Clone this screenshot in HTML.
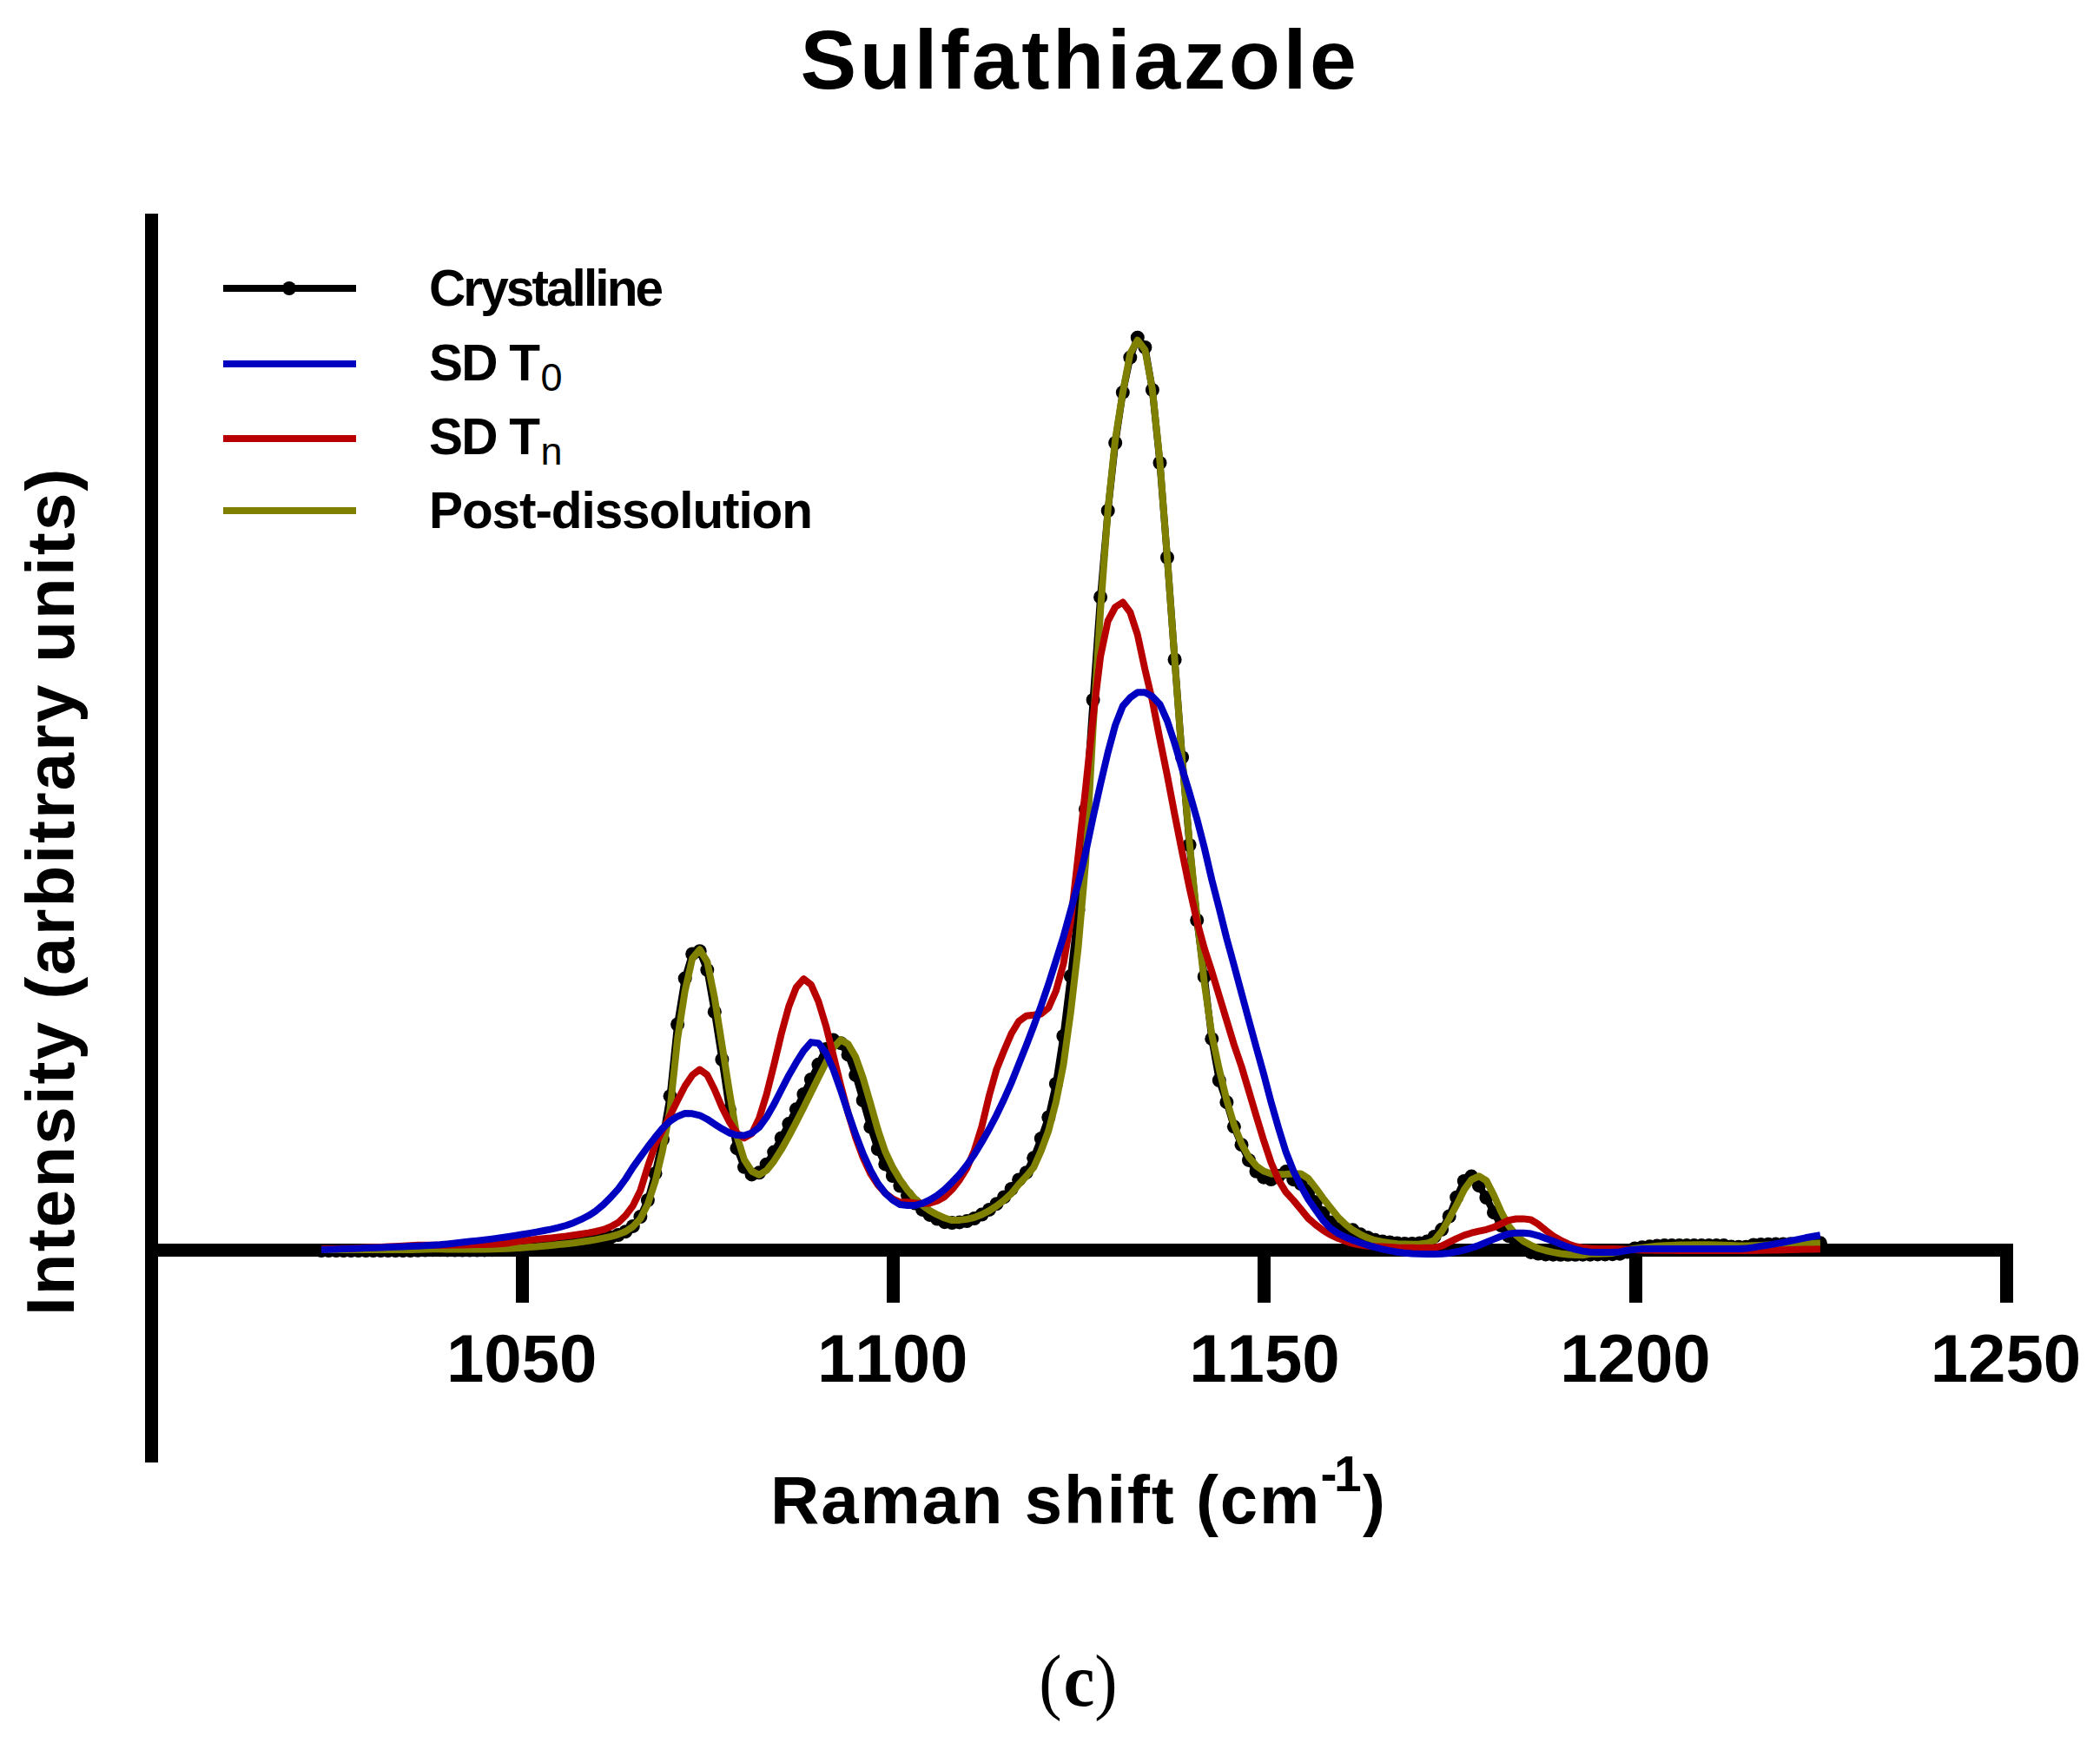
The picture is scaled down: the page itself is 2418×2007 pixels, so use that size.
<!DOCTYPE html>
<html lang="en">
<head>
<meta charset="utf-8">
<title>Sulfathiazole Raman</title>
<style>
html,body{margin:0;padding:0;background:#fff;}
body{width:2418px;height:2007px;overflow:hidden;}
svg{display:block;}
text{font-family:'Liberation Sans', Arial, Helvetica, sans-serif;font-weight:bold;fill:#000;}
.serif{font-family:'Liberation Serif', 'Times New Roman', serif;font-weight:normal;}
.serifb{font-family:'Liberation Serif', 'Times New Roman', serif;font-weight:bold;}
.ln{fill:none;stroke-width:8;stroke-linejoin:round;stroke-linecap:butt;}
</style>
</head>
<body>
<svg width="2418" height="2007" viewBox="0 0 2418 2007">
<rect width="2418" height="2007" fill="#fff"/>
<!-- title -->
<text id="title" x="921.5" y="102" font-size="97" textLength="640.5" lengthAdjust="spacing">Sulfathiazole</text>
<!-- axes -->
<g fill="#000" shape-rendering="crispEdges">
<rect x="167" y="246" width="15" height="1438"/>
<rect x="167" y="1432" width="2151" height="15"/>
<rect x="594" y="1440" width="15" height="60"/>
<rect x="1021" y="1440" width="15" height="60"/>
<rect x="1448" y="1440" width="15" height="60"/>
<rect x="1876" y="1440" width="15" height="60"/>
<rect x="2303" y="1440" width="15" height="60"/>
</g>
<!-- tick labels -->
<g font-size="78" text-anchor="middle" style="font-kerning:none">
<text id="t1" x="600.7" y="1590.5">1050</text>
<text id="t2" x="1027.7" y="1590.5">1100</text>
<text id="t3" x="1455.9" y="1590.5">1150</text>
<text id="t4" x="1882.9" y="1590.5">1200</text>
<text id="t5" x="2309.5" y="1590.5">1250</text>
</g>
<!-- axis titles -->
<text id="xl1" x="887" y="1753.5" font-size="78" textLength="632.4" lengthAdjust="spacing">Raman shift (cm</text>
<text id="xl2" y="1717" font-size="57"><tspan x="1520.5">-</tspan><tspan x="1536">1</tspan></text>
<text id="xl3" x="1569" y="1753.5" font-size="78">)</text>
<text id="yl" transform="translate(85,1515) rotate(-90)" font-size="78" textLength="975.5" lengthAdjust="spacing">Intensity (arbitrary units)</text>
<!-- legend -->
<g class="ln">
<line x1="257" y1="332" x2="410" y2="332" stroke="#000"/>
<line x1="257" y1="419" x2="410" y2="419" stroke="#0000c0"/>
<line x1="257" y1="505" x2="410" y2="505" stroke="#b80000"/>
<line x1="257" y1="588" x2="410" y2="588" stroke="#808000"/>
</g>
<circle cx="333" cy="332" r="8"/>
<g font-size="58.5">
<text id="l1" x="494" y="352" textLength="270" lengthAdjust="spacing">Crystalline</text>
<text id="l2" x="494" y="437.5" textLength="128" lengthAdjust="spacing">SD T</text>
<text id="l2s" x="622.5" y="449.5" font-size="45" style="font-weight:normal">0</text>
<text id="l3" x="494" y="522.5" textLength="128" lengthAdjust="spacing">SD T</text>
<text id="l3s" x="622.5" y="534.5" font-size="45" style="font-weight:normal">n</text>
<text id="l4" x="494" y="608" textLength="442" lengthAdjust="spacing">Post-dissolution</text>
</g>
<!-- data -->
<polyline class="ln" stroke="#000" points="370.0,1440.0 378.5,1440.0 387.1,1440.0 395.6,1440.0 404.2,1440.0 412.7,1440.0 421.3,1440.0 429.8,1440.0 438.4,1440.0 446.9,1440.0 455.4,1440.0 464.0,1440.0 472.5,1440.0 481.1,1439.8 489.6,1439.5 498.2,1439.3 506.7,1439.3 515.2,1439.4 523.8,1439.5 532.3,1439.5 540.9,1439.5 549.4,1439.5 558.0,1439.4 566.5,1439.3 575.1,1439.1 583.6,1438.8 592.1,1438.3 600.7,1437.7 609.2,1437.1 617.8,1436.5 626.3,1435.7 634.9,1434.9 643.4,1434.1 652.0,1433.2 660.5,1432.2 669.0,1431.0 677.6,1429.8 686.1,1428.4 694.7,1426.7 703.2,1424.7 711.8,1422.0 720.3,1418.2 728.8,1411.9 737.4,1401.0 745.9,1382.0 754.5,1351.2 763.0,1312.0 771.6,1262.2 780.1,1179.5 788.7,1126.6 797.2,1098.4 805.7,1095.2 814.3,1116.8 822.8,1165.2 831.4,1220.0 839.9,1277.5 848.5,1322.2 857.0,1343.8 865.6,1352.4 874.1,1350.3 882.6,1340.7 891.2,1326.6 899.7,1310.4 908.3,1294.1 916.8,1277.3 925.4,1260.0 933.9,1242.9 942.4,1225.8 951.0,1208.0 959.5,1197.6 968.1,1201.2 976.6,1214.4 985.2,1237.8 993.7,1267.0 1002.3,1297.5 1010.8,1323.0 1019.3,1340.4 1027.9,1354.0 1036.4,1365.6 1045.0,1376.3 1053.5,1385.6 1062.1,1392.9 1070.6,1398.9 1079.2,1403.6 1087.7,1407.2 1096.2,1408.1 1104.8,1407.4 1113.3,1406.1 1121.9,1403.0 1130.4,1398.6 1139.0,1392.9 1147.5,1386.2 1156.0,1378.4 1164.6,1369.0 1173.1,1358.4 1181.7,1350.2 1190.2,1333.3 1198.8,1310.9 1207.3,1286.5 1215.9,1248.0 1224.4,1193.0 1232.9,1124.0 1241.5,1048.0 1250.0,932.0 1258.6,806.0 1267.1,687.5 1275.7,588.0 1284.2,510.0 1292.8,451.8 1301.3,411.6 1309.8,388.7 1318.4,400.0 1326.9,449.0 1335.5,533.0 1344.0,642.0 1352.6,759.5 1361.1,872.0 1369.6,973.0 1378.2,1059.5 1386.7,1124.5 1395.3,1196.2 1403.8,1244.0 1412.4,1269.1 1420.9,1297.3 1429.5,1318.2 1438.0,1335.9 1446.5,1348.8 1455.1,1355.7 1463.6,1358.0 1472.2,1354.0 1480.7,1349.1 1489.3,1358.2 1497.8,1363.1 1506.4,1371.5 1514.9,1384.2 1523.4,1397.0 1532.0,1407.5 1540.5,1415.3 1549.1,1420.0 1557.6,1416.3 1566.2,1421.2 1574.7,1425.0 1583.2,1427.8 1591.8,1429.4 1600.3,1430.5 1608.9,1431.5 1617.4,1431.9 1626.0,1431.9 1634.5,1431.5 1643.1,1429.6 1651.6,1423.9 1660.1,1415.8 1668.7,1400.5 1677.2,1378.7 1685.8,1359.9 1694.3,1354.6 1702.9,1365.2 1711.4,1379.0 1720.0,1396.2 1728.5,1411.0 1737.0,1423.2 1745.6,1432.9 1754.1,1438.7 1762.7,1441.9 1771.2,1443.6 1779.8,1444.4 1788.3,1444.7 1796.8,1444.8 1805.4,1444.8 1813.9,1444.8 1822.5,1444.7 1831.0,1444.7 1839.6,1444.4 1848.1,1444.4 1856.7,1444.2 1865.2,1443.7 1873.7,1441.5 1882.3,1437.4 1890.8,1436.2 1899.4,1435.3 1907.9,1434.4 1916.5,1434.1 1925.0,1434.1 1933.6,1434.1 1942.1,1434.1 1950.6,1434.1 1959.2,1434.1 1967.7,1434.1 1976.3,1434.1 1984.8,1434.1 1993.4,1435.6 2001.9,1435.7 2010.4,1435.7 2019.0,1433.4 2027.5,1433.0 2036.1,1432.8 2044.6,1432.6 2053.2,1432.5 2061.7,1432.3 2070.3,1432.2 2078.8,1432.1 2087.3,1431.9 2095.9,1431.3"/>
<g fill="#000"><circle cx="370.0" cy="1440.0" r="8"/><circle cx="378.5" cy="1440.0" r="8"/><circle cx="387.1" cy="1440.0" r="8"/><circle cx="395.6" cy="1440.0" r="8"/><circle cx="404.2" cy="1440.0" r="8"/><circle cx="412.7" cy="1440.0" r="8"/><circle cx="421.3" cy="1440.0" r="8"/><circle cx="429.8" cy="1440.0" r="8"/><circle cx="438.4" cy="1440.0" r="8"/><circle cx="446.9" cy="1440.0" r="8"/><circle cx="455.4" cy="1440.0" r="8"/><circle cx="464.0" cy="1440.0" r="8"/><circle cx="472.5" cy="1440.0" r="8"/><circle cx="481.1" cy="1439.8" r="8"/><circle cx="489.6" cy="1439.5" r="8"/><circle cx="498.2" cy="1439.3" r="8"/><circle cx="506.7" cy="1439.3" r="8"/><circle cx="515.2" cy="1439.4" r="8"/><circle cx="523.8" cy="1439.5" r="8"/><circle cx="532.3" cy="1439.5" r="8"/><circle cx="540.9" cy="1439.5" r="8"/><circle cx="549.4" cy="1439.5" r="8"/><circle cx="558.0" cy="1439.4" r="8"/><circle cx="566.5" cy="1439.3" r="8"/><circle cx="575.1" cy="1439.1" r="8"/><circle cx="583.6" cy="1438.8" r="8"/><circle cx="592.1" cy="1438.3" r="8"/><circle cx="600.7" cy="1437.7" r="8"/><circle cx="609.2" cy="1437.1" r="8"/><circle cx="617.8" cy="1436.5" r="8"/><circle cx="626.3" cy="1435.7" r="8"/><circle cx="634.9" cy="1434.9" r="8"/><circle cx="643.4" cy="1434.1" r="8"/><circle cx="652.0" cy="1433.2" r="8"/><circle cx="660.5" cy="1432.2" r="8"/><circle cx="669.0" cy="1431.0" r="8"/><circle cx="677.6" cy="1429.8" r="8"/><circle cx="686.1" cy="1428.4" r="8"/><circle cx="694.7" cy="1426.7" r="8"/><circle cx="703.2" cy="1424.7" r="8"/><circle cx="711.8" cy="1422.0" r="8"/><circle cx="720.3" cy="1418.2" r="8"/><circle cx="728.8" cy="1411.9" r="8"/><circle cx="737.4" cy="1401.0" r="8"/><circle cx="745.9" cy="1382.0" r="8"/><circle cx="754.5" cy="1351.2" r="8"/><circle cx="763.0" cy="1312.0" r="8"/><circle cx="771.6" cy="1262.2" r="8"/><circle cx="780.1" cy="1179.5" r="8"/><circle cx="788.7" cy="1126.6" r="8"/><circle cx="797.2" cy="1098.4" r="8"/><circle cx="805.7" cy="1095.2" r="8"/><circle cx="814.3" cy="1116.8" r="8"/><circle cx="822.8" cy="1165.2" r="8"/><circle cx="831.4" cy="1220.0" r="8"/><circle cx="839.9" cy="1277.5" r="8"/><circle cx="848.5" cy="1322.2" r="8"/><circle cx="857.0" cy="1343.8" r="8"/><circle cx="865.6" cy="1352.4" r="8"/><circle cx="874.1" cy="1350.3" r="8"/><circle cx="882.6" cy="1340.7" r="8"/><circle cx="891.2" cy="1326.6" r="8"/><circle cx="899.7" cy="1310.4" r="8"/><circle cx="908.3" cy="1294.1" r="8"/><circle cx="916.8" cy="1277.3" r="8"/><circle cx="925.4" cy="1260.0" r="8"/><circle cx="933.9" cy="1242.9" r="8"/><circle cx="942.4" cy="1225.8" r="8"/><circle cx="951.0" cy="1208.0" r="8"/><circle cx="959.5" cy="1197.6" r="8"/><circle cx="968.1" cy="1201.2" r="8"/><circle cx="976.6" cy="1214.4" r="8"/><circle cx="985.2" cy="1237.8" r="8"/><circle cx="993.7" cy="1267.0" r="8"/><circle cx="1002.3" cy="1297.5" r="8"/><circle cx="1010.8" cy="1323.0" r="8"/><circle cx="1019.3" cy="1340.4" r="8"/><circle cx="1027.9" cy="1354.0" r="8"/><circle cx="1036.4" cy="1365.6" r="8"/><circle cx="1045.0" cy="1376.3" r="8"/><circle cx="1053.5" cy="1385.6" r="8"/><circle cx="1062.1" cy="1392.9" r="8"/><circle cx="1070.6" cy="1398.9" r="8"/><circle cx="1079.2" cy="1403.6" r="8"/><circle cx="1087.7" cy="1407.2" r="8"/><circle cx="1096.2" cy="1408.1" r="8"/><circle cx="1104.8" cy="1407.4" r="8"/><circle cx="1113.3" cy="1406.1" r="8"/><circle cx="1121.9" cy="1403.0" r="8"/><circle cx="1130.4" cy="1398.6" r="8"/><circle cx="1139.0" cy="1392.9" r="8"/><circle cx="1147.5" cy="1386.2" r="8"/><circle cx="1156.0" cy="1378.4" r="8"/><circle cx="1164.6" cy="1369.0" r="8"/><circle cx="1173.1" cy="1358.4" r="8"/><circle cx="1181.7" cy="1350.2" r="8"/><circle cx="1190.2" cy="1333.3" r="8"/><circle cx="1198.8" cy="1310.9" r="8"/><circle cx="1207.3" cy="1286.5" r="8"/><circle cx="1215.9" cy="1248.0" r="8"/><circle cx="1224.4" cy="1193.0" r="8"/><circle cx="1232.9" cy="1124.0" r="8"/><circle cx="1241.5" cy="1048.0" r="8"/><circle cx="1250.0" cy="932.0" r="8"/><circle cx="1258.6" cy="806.0" r="8"/><circle cx="1267.1" cy="687.5" r="8"/><circle cx="1275.7" cy="588.0" r="8"/><circle cx="1284.2" cy="510.0" r="8"/><circle cx="1292.8" cy="451.8" r="8"/><circle cx="1301.3" cy="411.6" r="8"/><circle cx="1309.8" cy="388.7" r="8"/><circle cx="1318.4" cy="400.0" r="8"/><circle cx="1326.9" cy="449.0" r="8"/><circle cx="1335.5" cy="533.0" r="8"/><circle cx="1344.0" cy="642.0" r="8"/><circle cx="1352.6" cy="759.5" r="8"/><circle cx="1361.1" cy="872.0" r="8"/><circle cx="1369.6" cy="973.0" r="8"/><circle cx="1378.2" cy="1059.5" r="8"/><circle cx="1386.7" cy="1124.5" r="8"/><circle cx="1395.3" cy="1196.2" r="8"/><circle cx="1403.8" cy="1244.0" r="8"/><circle cx="1412.4" cy="1269.1" r="8"/><circle cx="1420.9" cy="1297.3" r="8"/><circle cx="1429.5" cy="1318.2" r="8"/><circle cx="1438.0" cy="1335.9" r="8"/><circle cx="1446.5" cy="1348.8" r="8"/><circle cx="1455.1" cy="1355.7" r="8"/><circle cx="1463.6" cy="1358.0" r="8"/><circle cx="1472.2" cy="1354.0" r="8"/><circle cx="1480.7" cy="1349.1" r="8"/><circle cx="1489.3" cy="1358.2" r="8"/><circle cx="1497.8" cy="1363.1" r="8"/><circle cx="1506.4" cy="1371.5" r="8"/><circle cx="1514.9" cy="1384.2" r="8"/><circle cx="1523.4" cy="1397.0" r="8"/><circle cx="1532.0" cy="1407.5" r="8"/><circle cx="1540.5" cy="1415.3" r="8"/><circle cx="1549.1" cy="1420.0" r="8"/><circle cx="1557.6" cy="1416.3" r="8"/><circle cx="1566.2" cy="1421.2" r="8"/><circle cx="1574.7" cy="1425.0" r="8"/><circle cx="1583.2" cy="1427.8" r="8"/><circle cx="1591.8" cy="1429.4" r="8"/><circle cx="1600.3" cy="1430.5" r="8"/><circle cx="1608.9" cy="1431.5" r="8"/><circle cx="1617.4" cy="1431.9" r="8"/><circle cx="1626.0" cy="1431.9" r="8"/><circle cx="1634.5" cy="1431.5" r="8"/><circle cx="1643.1" cy="1429.6" r="8"/><circle cx="1651.6" cy="1423.9" r="8"/><circle cx="1660.1" cy="1415.8" r="8"/><circle cx="1668.7" cy="1400.5" r="8"/><circle cx="1677.2" cy="1378.7" r="8"/><circle cx="1685.8" cy="1359.9" r="8"/><circle cx="1694.3" cy="1354.6" r="8"/><circle cx="1702.9" cy="1365.2" r="8"/><circle cx="1711.4" cy="1379.0" r="8"/><circle cx="1720.0" cy="1396.2" r="8"/><circle cx="1728.5" cy="1411.0" r="8"/><circle cx="1737.0" cy="1423.2" r="8"/><circle cx="1745.6" cy="1432.9" r="8"/><circle cx="1754.1" cy="1438.7" r="8"/><circle cx="1762.7" cy="1441.9" r="8"/><circle cx="1771.2" cy="1443.6" r="8"/><circle cx="1779.8" cy="1444.4" r="8"/><circle cx="1788.3" cy="1444.7" r="8"/><circle cx="1796.8" cy="1444.8" r="8"/><circle cx="1805.4" cy="1444.8" r="8"/><circle cx="1813.9" cy="1444.8" r="8"/><circle cx="1822.5" cy="1444.7" r="8"/><circle cx="1831.0" cy="1444.7" r="8"/><circle cx="1839.6" cy="1444.4" r="8"/><circle cx="1848.1" cy="1444.4" r="8"/><circle cx="1856.7" cy="1444.2" r="8"/><circle cx="1865.2" cy="1443.7" r="8"/><circle cx="1873.7" cy="1441.5" r="8"/><circle cx="1882.3" cy="1437.4" r="8"/><circle cx="1890.8" cy="1436.2" r="8"/><circle cx="1899.4" cy="1435.3" r="8"/><circle cx="1907.9" cy="1434.4" r="8"/><circle cx="1916.5" cy="1434.1" r="8"/><circle cx="1925.0" cy="1434.1" r="8"/><circle cx="1933.6" cy="1434.1" r="8"/><circle cx="1942.1" cy="1434.1" r="8"/><circle cx="1950.6" cy="1434.1" r="8"/><circle cx="1959.2" cy="1434.1" r="8"/><circle cx="1967.7" cy="1434.1" r="8"/><circle cx="1976.3" cy="1434.1" r="8"/><circle cx="1984.8" cy="1434.1" r="8"/><circle cx="1993.4" cy="1435.6" r="8"/><circle cx="2001.9" cy="1435.7" r="8"/><circle cx="2010.4" cy="1435.7" r="8"/><circle cx="2019.0" cy="1433.4" r="8"/><circle cx="2027.5" cy="1433.0" r="8"/><circle cx="2036.1" cy="1432.8" r="8"/><circle cx="2044.6" cy="1432.6" r="8"/><circle cx="2053.2" cy="1432.5" r="8"/><circle cx="2061.7" cy="1432.3" r="8"/><circle cx="2070.3" cy="1432.2" r="8"/><circle cx="2078.8" cy="1432.1" r="8"/><circle cx="2087.3" cy="1431.9" r="8"/><circle cx="2095.9" cy="1431.3" r="8"/></g>
<polyline class="ln" stroke="#808000" points="370.0,1439.0 378.5,1439.0 387.1,1439.0 395.6,1439.0 404.2,1439.0 412.7,1439.0 421.3,1439.0 429.8,1439.0 438.4,1439.0 446.9,1439.0 455.4,1439.0 464.0,1439.0 472.5,1439.0 481.1,1438.8 489.6,1438.5 498.2,1438.3 506.7,1438.3 515.2,1438.4 523.8,1438.5 532.3,1438.5 540.9,1438.5 549.4,1438.5 558.0,1438.4 566.5,1438.3 575.1,1438.1 583.6,1437.8 592.1,1437.3 600.7,1436.7 609.2,1436.1 617.8,1435.5 626.3,1434.7 634.9,1433.9 643.4,1433.1 652.0,1432.2 660.5,1431.2 669.0,1430.0 677.6,1428.8 686.1,1427.4 694.7,1425.7 703.2,1423.8 711.8,1421.4 720.3,1418.0 728.8,1412.4 737.4,1403.1 745.9,1386.5 754.5,1360.3 763.0,1324.3 771.6,1276.9 780.1,1196.3 788.7,1141.1 797.2,1103.6 805.7,1093.3 814.3,1107.3 822.8,1149.2 831.4,1203.3 839.9,1257.4 848.5,1308.4 857.0,1335.4 865.6,1348.7 874.1,1352.9 882.6,1347.7 891.2,1336.9 899.7,1323.7 908.3,1308.4 916.8,1292.1 925.4,1275.2 933.9,1257.9 942.4,1240.8 951.0,1223.7 959.5,1206.4 968.1,1197.2 976.6,1202.2 985.2,1217.0 993.7,1241.2 1002.3,1270.7 1010.8,1300.9 1019.3,1326.0 1027.9,1344.1 1036.4,1358.5 1045.0,1370.5 1053.5,1380.3 1062.1,1388.0 1070.6,1393.9 1079.2,1398.7 1087.7,1402.5 1096.2,1405.1 1104.8,1404.9 1113.3,1403.9 1121.9,1401.9 1130.4,1398.5 1139.0,1394.1 1147.5,1388.6 1156.0,1382.1 1164.6,1374.2 1173.1,1363.8 1181.7,1354.5 1190.2,1344.3 1198.8,1325.0 1207.3,1302.0 1215.9,1269.0 1224.4,1226.5 1232.9,1165.0 1241.5,1091.0 1250.0,993.0 1258.6,838.0 1267.1,703.0 1275.7,587.0 1284.2,506.0 1292.8,452.0 1301.3,407.0 1309.8,391.8 1318.4,403.0 1326.9,448.6 1335.5,531.0 1344.0,642.0 1352.6,759.6 1361.1,874.0 1369.6,970.0 1378.2,1056.0 1386.7,1131.5 1395.3,1191.6 1403.8,1231.0 1412.4,1266.5 1420.9,1295.2 1429.5,1316.8 1438.0,1332.4 1446.5,1342.4 1455.1,1348.5 1463.6,1351.5 1472.2,1352.2 1480.7,1352.1 1489.3,1351.5 1497.8,1351.5 1506.4,1356.9 1514.9,1367.9 1523.4,1379.6 1532.0,1390.7 1540.5,1401.3 1549.1,1409.7 1557.6,1416.3 1566.2,1421.3 1574.7,1425.3 1583.2,1428.2 1591.8,1429.9 1600.3,1431.2 1608.9,1432.2 1617.4,1432.5 1626.0,1432.7 1634.5,1432.4 1643.1,1431.6 1651.6,1428.1 1660.1,1417.9 1668.7,1403.2 1677.2,1387.4 1685.8,1370.2 1694.3,1358.4 1702.9,1354.3 1711.4,1359.4 1720.0,1376.1 1728.5,1395.4 1737.0,1411.3 1745.6,1422.2 1754.1,1429.3 1762.7,1433.8 1771.2,1437.5 1779.8,1440.0 1788.3,1441.9 1796.8,1443.5 1805.4,1444.5 1813.9,1445.0 1822.5,1445.2 1831.0,1443.8 1839.6,1443.7 1848.1,1443.6 1856.7,1442.9 1865.2,1441.1 1873.7,1439.2 1882.3,1437.8 1890.8,1436.6 1899.4,1435.6 1907.9,1434.8 1916.5,1434.3 1925.0,1433.9 1933.6,1433.6 1942.1,1433.5 1950.6,1433.3 1959.2,1433.3 1967.7,1433.3 1976.3,1433.5 1984.8,1433.8 1993.4,1434.1 2001.9,1434.5 2010.4,1434.5 2019.0,1434.2 2027.5,1433.9 2036.1,1433.5 2044.6,1433.2 2053.2,1432.9 2061.7,1432.6 2070.3,1432.3 2078.8,1432.0 2087.3,1431.7 2095.9,1431.5"/>
<polyline class="ln" stroke="#b80000" points="370.0,1438.3 378.5,1438.1 387.1,1437.9 395.6,1437.6 404.2,1437.4 412.7,1437.0 421.3,1436.6 429.8,1436.2 438.4,1435.9 446.9,1435.5 455.4,1435.2 464.0,1434.8 472.5,1434.3 481.1,1433.8 489.6,1433.8 498.2,1433.7 506.7,1433.7 515.2,1433.7 523.8,1433.6 532.3,1433.5 540.9,1433.3 549.4,1433.1 558.0,1432.9 566.5,1432.7 575.1,1432.3 583.6,1431.5 592.1,1430.1 600.7,1428.8 609.2,1427.9 617.8,1427.1 626.3,1426.3 634.9,1425.4 643.4,1424.4 652.0,1423.4 660.5,1422.2 669.0,1421.0 677.6,1419.6 686.1,1418.0 694.7,1415.9 703.2,1412.6 711.8,1407.8 720.3,1399.6 728.8,1388.3 737.4,1370.7 745.9,1343.1 754.5,1318.0 763.0,1301.5 771.6,1284.4 780.1,1267.2 788.7,1250.5 797.2,1237.9 805.7,1231.5 814.3,1237.8 822.8,1254.7 831.4,1275.2 839.9,1292.0 848.5,1304.7 857.0,1310.4 865.6,1305.3 874.1,1287.7 882.6,1260.3 891.2,1226.0 899.7,1190.3 908.3,1158.8 916.8,1137.0 925.4,1127.2 933.9,1133.8 942.4,1153.2 951.0,1181.3 959.5,1215.3 968.1,1249.9 976.6,1281.9 985.2,1309.9 993.7,1332.9 1002.3,1351.3 1010.8,1364.4 1019.3,1373.8 1027.9,1380.5 1036.4,1384.3 1045.0,1384.2 1053.5,1385.2 1062.1,1385.7 1070.6,1385.5 1079.2,1382.8 1087.7,1378.0 1096.2,1369.7 1104.8,1358.7 1113.3,1345.1 1121.9,1324.8 1130.4,1297.5 1139.0,1261.5 1147.5,1231.2 1156.0,1210.0 1164.6,1190.0 1173.1,1176.0 1181.7,1169.8 1190.2,1168.8 1198.8,1167.5 1207.3,1160.5 1215.9,1141.0 1224.4,1110.0 1232.9,1060.7 1241.5,985.0 1250.0,908.0 1258.6,826.0 1267.1,756.0 1275.7,715.0 1284.2,699.0 1292.8,693.5 1301.3,705.0 1309.8,731.0 1318.4,771.0 1326.9,806.9 1335.5,851.0 1344.0,893.0 1352.6,938.0 1361.1,981.0 1369.6,1022.5 1378.2,1060.7 1386.7,1092.0 1395.3,1118.5 1403.8,1146.7 1412.4,1175.0 1420.9,1203.0 1429.5,1228.0 1438.0,1256.5 1446.5,1285.1 1455.1,1313.3 1463.6,1338.7 1472.2,1358.9 1480.7,1372.8 1489.3,1382.1 1497.8,1392.4 1506.4,1402.9 1514.9,1410.2 1523.4,1416.6 1532.0,1421.9 1540.5,1425.8 1549.1,1429.1 1557.6,1431.9 1566.2,1433.6 1574.7,1434.7 1583.2,1435.3 1591.8,1435.6 1600.3,1436.0 1608.9,1436.5 1617.4,1436.7 1626.0,1436.8 1634.5,1436.9 1643.1,1436.8 1651.6,1436.7 1660.1,1434.7 1668.7,1430.4 1677.2,1426.1 1685.8,1422.4 1694.3,1419.7 1702.9,1417.6 1711.4,1415.8 1720.0,1413.1 1728.5,1409.1 1737.0,1405.1 1745.6,1403.5 1754.1,1403.4 1762.7,1404.5 1771.2,1409.7 1779.8,1416.7 1788.3,1423.1 1796.8,1428.0 1805.4,1432.2 1813.9,1435.2 1822.5,1436.7 1831.0,1437.6 1839.6,1438.1 1848.1,1438.1 1856.7,1438.1 1865.2,1438.3 1873.7,1438.7 1882.3,1439.1 1890.8,1439.4 1899.4,1439.6 1907.9,1439.7 1916.5,1439.8 1925.0,1439.8 1933.6,1439.9 1942.1,1439.9 1950.6,1439.9 1959.2,1439.9 1967.7,1440.0 1976.3,1440.0 1984.8,1440.0 1993.4,1440.0 2001.9,1440.0 2010.4,1440.0 2019.0,1439.9 2027.5,1439.7 2036.1,1439.6 2044.6,1439.4 2053.2,1439.2 2061.7,1439.0 2070.3,1438.8 2078.8,1438.6 2087.3,1438.4 2095.9,1438.2"/>
<polyline class="ln" stroke="#0000c0" points="370.0,1439.0 378.5,1438.7 387.1,1438.4 395.6,1438.1 404.2,1437.8 412.7,1437.4 421.3,1437.1 429.8,1436.7 438.4,1436.4 446.9,1436.1 455.4,1435.7 464.0,1435.4 472.5,1435.1 481.1,1434.7 489.6,1434.3 498.2,1433.8 506.7,1433.2 515.2,1432.4 523.8,1431.5 532.3,1430.5 540.9,1429.6 549.4,1428.6 558.0,1427.6 566.5,1426.6 575.1,1425.4 583.6,1424.2 592.1,1422.9 600.7,1421.5 609.2,1420.1 617.8,1418.6 626.3,1417.0 634.9,1415.3 643.4,1413.4 652.0,1411.0 660.5,1407.9 669.0,1404.2 677.6,1399.8 686.1,1394.3 694.7,1387.1 703.2,1378.7 711.8,1369.1 720.3,1357.5 728.8,1344.1 737.4,1332.1 745.9,1320.5 754.5,1309.4 763.0,1299.1 771.6,1290.8 780.1,1285.4 788.7,1282.1 797.2,1282.3 805.7,1284.3 814.3,1288.7 822.8,1294.3 831.4,1299.8 839.9,1304.6 848.5,1307.1 857.0,1307.5 865.6,1304.6 874.1,1298.1 882.6,1286.5 891.2,1271.5 899.7,1254.8 908.3,1238.2 916.8,1223.4 925.4,1209.8 933.9,1200.1 942.4,1201.2 951.0,1212.3 959.5,1231.5 968.1,1255.7 976.6,1281.4 985.2,1306.2 993.7,1328.5 1002.3,1347.4 1010.8,1362.6 1019.3,1373.9 1027.9,1381.9 1036.4,1387.1 1045.0,1388.0 1053.5,1388.0 1062.1,1385.7 1070.6,1381.6 1079.2,1376.4 1087.7,1369.6 1096.2,1361.3 1104.8,1352.2 1113.3,1341.5 1121.9,1329.2 1130.4,1315.2 1139.0,1300.0 1147.5,1283.8 1156.0,1266.0 1164.6,1246.6 1173.1,1225.3 1181.7,1203.8 1190.2,1181.5 1198.8,1158.0 1207.3,1133.0 1215.9,1106.0 1224.4,1078.9 1232.9,1048.0 1241.5,1017.0 1250.0,982.0 1258.6,941.0 1267.1,903.0 1275.7,866.4 1284.2,834.9 1292.8,813.0 1301.3,803.3 1309.8,797.3 1318.4,797.3 1326.9,802.0 1335.5,811.0 1344.0,830.0 1352.6,856.0 1361.1,885.0 1369.6,913.0 1378.2,943.0 1386.7,976.0 1395.3,1013.0 1403.8,1046.0 1412.4,1080.5 1420.9,1111.5 1429.5,1143.5 1438.0,1175.0 1446.5,1206.0 1455.1,1236.9 1463.6,1269.2 1472.2,1299.2 1480.7,1326.6 1489.3,1348.2 1497.8,1365.5 1506.4,1381.0 1514.9,1393.3 1523.4,1405.3 1532.0,1414.2 1540.5,1420.1 1549.1,1424.5 1557.6,1428.0 1566.2,1431.0 1574.7,1433.8 1583.2,1436.2 1591.8,1438.3 1600.3,1440.1 1608.9,1441.7 1617.4,1442.7 1626.0,1443.5 1634.5,1443.8 1643.1,1443.9 1651.6,1444.0 1660.1,1443.8 1668.7,1442.9 1677.2,1441.3 1685.8,1439.4 1694.3,1436.9 1702.9,1434.0 1711.4,1430.4 1720.0,1426.9 1728.5,1423.6 1737.0,1420.8 1745.6,1419.7 1754.1,1419.7 1762.7,1420.6 1771.2,1422.8 1779.8,1426.0 1788.3,1429.1 1796.8,1432.4 1805.4,1435.9 1813.9,1438.6 1822.5,1440.6 1831.0,1441.7 1839.6,1441.9 1848.1,1441.9 1856.7,1441.9 1865.2,1441.4 1873.7,1439.8 1882.3,1438.8 1890.8,1438.1 1899.4,1437.9 1907.9,1437.9 1916.5,1437.9 1925.0,1437.9 1933.6,1437.9 1942.1,1437.9 1950.6,1437.9 1959.2,1437.9 1967.7,1437.9 1976.3,1437.9 1984.8,1437.9 1993.4,1437.9 2001.9,1437.9 2010.4,1437.6 2019.0,1436.4 2027.5,1434.9 2036.1,1433.6 2044.6,1432.1 2053.2,1430.6 2061.7,1428.8 2070.3,1427.1 2078.8,1425.3 2087.3,1423.7 2095.9,1422.3"/>
<!-- panel label -->
<text class="serif" id="p1" transform="translate(1196.2,1964) scale(0.93,1)" font-size="85">(</text>
<text class="serifb" id="p2" transform="translate(1224.4,1964) scale(0.94,1)" font-size="86">c</text>
<text class="serif" id="p3" transform="translate(1260.3,1964) scale(0.93,1)" font-size="85">)</text>
</svg>
</body>
</html>
